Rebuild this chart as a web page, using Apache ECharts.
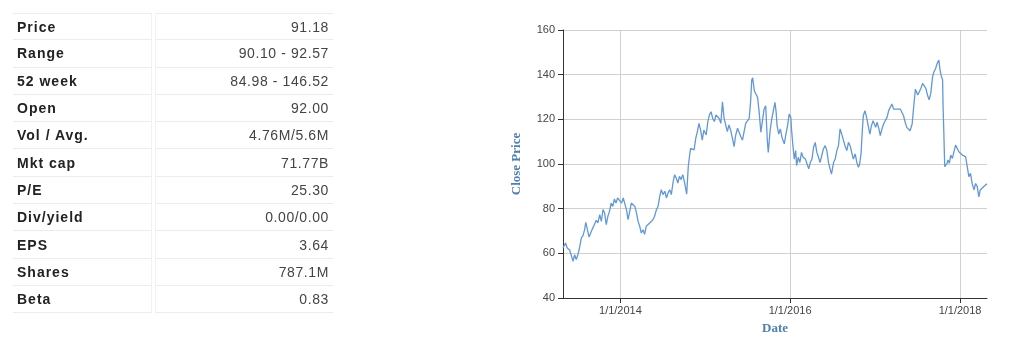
<!DOCTYPE html>
<html>
<head>
<meta charset="utf-8">
<script src="https://cdn.jsdelivr.net/npm/echarts@6/dist/echarts.min.js"></script>
<style>
  html, body { margin: 0; padding: 0; background: #fff; }
  #wrap { position: relative; width: 1024px; height: 359px; overflow: hidden; }
  #chart { position: absolute; left: 0; top: 0; width: 1024px; height: 359px; }
  #stats { position: absolute; left: 10px; top: 13px; border-collapse: separate; border-spacing: 3px 0;
           font-family: "Liberation Sans", Arial, sans-serif; font-size: 14px; z-index: 2; }
  #stats td { height: 27.3px; padding: 0 4px; border-bottom: 1px solid #ececec; box-sizing: border-box; }
  #stats tr:first-child td { border-top: 1px solid #ececec; }
  #stats td.l { width: 139px; font-weight: bold; color: #222; letter-spacing: 1px; border-right: 1px solid #f2f2f2; }
  #stats td.v { width: 178px; text-align: right; color: #444; letter-spacing: 0.6px; border-left: 1px solid #f2f2f2; }
</style>
</head>
<body>
<div id="wrap">
  <div id="chart"></div>
  <table id="stats"></table>
</div>
<script>
const statLabels = ['Price','Range','52 week','Open','Vol / Avg.','Mkt cap','P/E','Div/yield','EPS','Shares','Beta'];
const statValues = ['91.18','90.10 - 92.57','84.98 - 146.52','92.00','4.76M/5.6M','71.77B','25.30','0.00/0.00','3.64','787.1M','0.83'];

const xTickDates = ['2014-01-01','2016-01-01','2018-01-01'];

const dates = [
 '2013-04-29','2013-05-10','2013-05-17','2013-05-27','2013-06-04','2013-06-11','2013-06-18','2013-06-25',
 '2013-07-02','2013-07-09','2013-07-17','2013-07-24','2013-07-31','2013-08-05','2013-08-09','2013-08-19',
 '2013-08-29','2013-09-09','2013-09-19','2013-09-26','2013-10-04','2013-10-11','2013-10-18','2013-10-25',
 '2013-11-01','2013-11-08','2013-11-15','2013-11-22','2013-11-29','2013-12-06','2013-12-13','2013-12-20',
 '2013-12-27',
 '2014-01-06','2014-01-13','2014-01-20','2014-01-27','2014-02-03','2014-02-10','2014-02-17','2014-02-24',
 '2014-03-04','2014-03-11','2014-03-18','2014-03-25','2014-04-01','2014-04-08','2014-04-15','2014-04-22',
 '2014-04-29','2014-05-07','2014-05-14','2014-05-21','2014-05-28','2014-06-05','2014-06-12','2014-06-19',
 '2014-06-26','2014-07-03','2014-07-11','2014-07-18','2014-07-25','2014-08-01','2014-08-08','2014-08-15',
 '2014-08-22','2014-08-29','2014-09-05','2014-09-12','2014-09-19','2014-09-26','2014-10-03','2014-10-13',
 '2014-10-20','2014-10-27','2014-10-30','2014-11-07','2014-11-14','2014-11-21','2014-11-28','2014-12-05',
 '2014-12-12','2014-12-19','2014-12-26',
 '2015-01-05','2015-01-12','2015-01-19','2015-01-26','2015-02-02','2015-02-09','2015-02-16','2015-02-23',
 '2015-03-02','2015-03-09','2015-03-16','2015-03-23','2015-03-30','2015-04-06','2015-04-13','2015-04-20',
 '2015-04-28','2015-05-05','2015-05-12','2015-05-20','2015-05-27','2015-06-03','2015-06-10','2015-06-17',
 '2015-06-24','2015-07-02','2015-07-09','2015-07-15','2015-07-20','2015-07-24','2015-07-31','2015-08-07',
 '2015-08-14','2015-08-21','2015-08-28','2015-09-04','2015-09-11','2015-09-18','2015-09-25','2015-09-29',
 '2015-10-07','2015-10-14','2015-10-21','2015-10-28','2015-11-02','2015-11-06','2015-11-13','2015-11-20',
 '2015-11-27','2015-12-07','2015-12-14','2015-12-21','2015-12-28',
 '2016-01-04','2016-01-07','2016-01-13','2016-01-19','2016-01-25','2016-01-29','2016-02-05','2016-02-12',
 '2016-02-19','2016-02-26','2016-03-07','2016-03-14','2016-03-21','2016-03-28','2016-04-04','2016-04-11',
 '2016-04-18','2016-04-25','2016-05-02','2016-05-09','2016-05-16','2016-05-23','2016-05-31','2016-06-07',
 '2016-06-14','2016-06-21','2016-06-27','2016-07-06','2016-07-13','2016-07-20','2016-07-27','2016-08-03',
 '2016-08-10','2016-08-17','2016-08-24','2016-09-01','2016-09-08','2016-09-15','2016-09-22','2016-09-29',
 '2016-10-07','2016-10-14','2016-10-21','2016-10-26','2016-11-01','2016-11-07','2016-11-11','2016-11-18',
 '2016-11-25','2016-12-02','2016-12-09','2016-12-16','2016-12-23',
 '2017-01-03','2017-01-09','2017-01-17','2017-01-23','2017-01-30','2017-02-06','2017-02-13','2017-02-21',
 '2017-02-28','2017-03-07','2017-03-14','2017-03-21','2017-03-28','2017-04-05','2017-04-12','2017-04-19',
 '2017-04-26','2017-05-03','2017-05-10','2017-05-17','2017-05-24','2017-05-31','2017-06-09','2017-06-16',
 '2017-06-23','2017-07-03','2017-07-10','2017-07-17','2017-07-24','2017-07-31','2017-08-07','2017-08-14',
 '2017-08-21','2017-08-28','2017-09-05','2017-09-11','2017-09-18','2017-09-25','2017-10-02','2017-10-06',
 '2017-10-11','2017-10-18','2017-10-20','2017-10-23','2017-10-26','2017-10-27','2017-11-06','2017-11-10',
 '2017-11-16','2017-11-22','2017-11-29','2017-12-06','2017-12-13','2017-12-20','2017-12-27',
 '2018-01-04','2018-01-11','2018-01-18','2018-01-25','2018-02-01','2018-02-08','2018-02-15','2018-02-22',
 '2018-03-02','2018-03-09','2018-03-16','2018-03-23','2018-03-29','2018-04-06','2018-04-13','2018-04-20',
 '2018-04-27'
];

const closePrices = [
 62.4, 64.6, 62.4, 61.6, 59.0, 56.4, 59.4, 57.2,
 59.4, 62.4, 66.9, 67.9, 70.6, 73.9, 72.1, 67.3,
 69.9, 72.4, 74.8, 73.6, 77.3, 74.3, 79.6, 78.1,
 72.8, 76.6, 78.8, 82.5, 81.0, 84.3, 82.5, 84.8,
 84.0,
 82.5, 84.8, 84.0, 79.6, 75.1, 78.8, 82.5, 81.8,
 81.0, 78.1, 74.3, 72.1, 69.1, 70.6, 68.5, 72.1,
 71.3, 73.6, 72.8, 75.1, 76.6, 79.6, 81.0, 85.5,
 88.5, 86.3, 87.8, 84.8, 87.0, 88.5, 86.3, 91.5,
 95.2, 93.7, 91.5, 94.5, 93.0, 95.2, 92.2, 86.5,
 99.0, 105.0, 107.0, 107.8, 106.3, 111.5, 114.5, 118.2,
 115.2, 110.7, 115.2,
 113.0, 119.0, 122.0, 123.4, 120.4, 119.0, 122.0, 122.7,
 120.4, 118.2, 127.9, 120.4, 117.5, 114.5, 117.5, 115.2,
 111.5, 107.8, 113.0, 116.0, 115.2, 112.2, 110.7, 111.5,
 118.2, 119.0, 120.4, 127.9, 137.6, 138.6, 132.8, 131.3,
 129.9, 123.1, 114.2, 119.4, 124.6, 126.1, 110.4, 105.2,
 115.0, 120.1, 123.9, 127.6, 123.1, 117.2, 113.4, 115.7,
 111.9, 109.0, 113.4, 117.2, 122.4,
 120.9, 115.7, 108.2, 102.2, 106.0, 99.3, 103.0, 100.7,
 105.2, 103.0, 102.2, 100.0, 97.8, 100.7, 102.2, 107.5,
 109.7, 105.2, 103.0, 100.7, 103.7, 106.7, 108.2, 106.0,
 100.7, 97.8, 95.5, 100.7, 102.2, 106.0, 108.2, 115.7,
 113.4, 114.2, 108.2, 106.0, 109.7, 108.2, 105.2, 102.2,
 104.5, 100.7, 98.5, 100.0, 104.5, 115.7, 121.6, 123.9,
 120.9, 117.2, 113.4, 117.2, 119.4,
 116.4, 118.7, 115.7, 112.7, 115.7, 117.9, 119.4, 120.9,
 123.9, 125.4, 126.9, 124.6, 125.4, 124.6, 125.4, 124.6,
 123.9, 121.6, 118.7, 116.4, 117.2, 114.9, 117.9, 126.1,
 133.5, 130.9, 132.4, 133.9, 136.1, 136.9, 133.9, 130.9,
 128.7, 131.6, 139.1, 141.3, 142.8, 145.1, 146.5, 142.8,
 139.9, 137.6, 125.7, 115.2, 103.3, 98.8, 100.3, 101.8,
 100.3, 104.0, 102.5, 105.5, 108.5, 107.0, 105.5,
 106.3, 104.0, 104.8, 103.3, 98.8, 94.3, 95.8, 91.3,
 88.4, 91.3, 89.9, 85.3, 88.4, 87.6, 89.9, 89.1,
 91.2
];

// stats table
const tbl = document.getElementById('stats');
statLabels.forEach((lab, i) => {
  const tr = document.createElement('tr');
  const a = document.createElement('td'); a.className = 'l'; a.textContent = lab;
  const b = document.createElement('td'); b.className = 'v'; b.textContent = statValues[i];
  tr.appendChild(a); tr.appendChild(b); tbl.appendChild(tr);
});

function toTs(s) { const p = s.split('-'); return new Date(+p[0], +p[1] - 1, +p[2]).getTime(); }
const xTicks = xTickDates.map(toTs);
const dateTs = dates.map(toTs);

const chart = echarts.init(document.getElementById('chart'), null, { renderer: 'canvas' });
const nameStyle = { fontFamily: '"Liberation Serif", "DejaVu Serif", serif', fontWeight: 'bold', fontSize: 13, color: '#4f7fae' };
chart.setOption({
  animation: false,
  grid: { left: 563, right: 37, top: 30, bottom: 61, containLabel: false },
  xAxis: {
    type: 'value',
    min: dateTs[0], max: dateTs[dateTs.length - 1],
    name: 'Date', nameLocation: 'middle', nameGap: 24, nameTextStyle: nameStyle,
    axisLine: { lineStyle: { color: '#333', width: 1 } },
    axisTick: { show: true, length: 5, customValues: xTicks, lineStyle: { color: '#333' } },
    axisLabel: {
      customValues: xTicks, margin: 7, color: '#444', fontSize: 11,
      fontFamily: '"Liberation Sans", Arial, sans-serif',
      formatter: v => { const d = new Date(v); return (d.getMonth() + 1) + '/' + d.getDate() + '/' + d.getFullYear(); }
    },
    splitLine: { show: true, lineStyle: { color: '#d0d0d0', width: 1 } }
  },
  yAxis: {
    type: 'value', min: 40, max: 160, interval: 20,
    name: 'Close Price', nameLocation: 'middle', nameRotate: 90, nameGap: 40, nameTextStyle: nameStyle,
    axisLine: { show: true, lineStyle: { color: '#333', width: 1 } },
    axisTick: { show: true, length: 5, lineStyle: { color: '#333' } },
    axisLabel: { margin: 8, color: '#444', fontSize: 11, fontFamily: '"Liberation Sans", Arial, sans-serif' },
    splitLine: { show: true, lineStyle: { color: '#d0d0d0', width: 1 } }
  },
  series: [{
    type: 'line',
    data: dateTs.map((t, i) => [t, closePrices[i]]),
    showSymbol: false,
    symbol: 'none',
    lineStyle: { color: '#6198d6', width: 1.3 },
    z: 3
  }]
});
</script>
</body>
</html>
